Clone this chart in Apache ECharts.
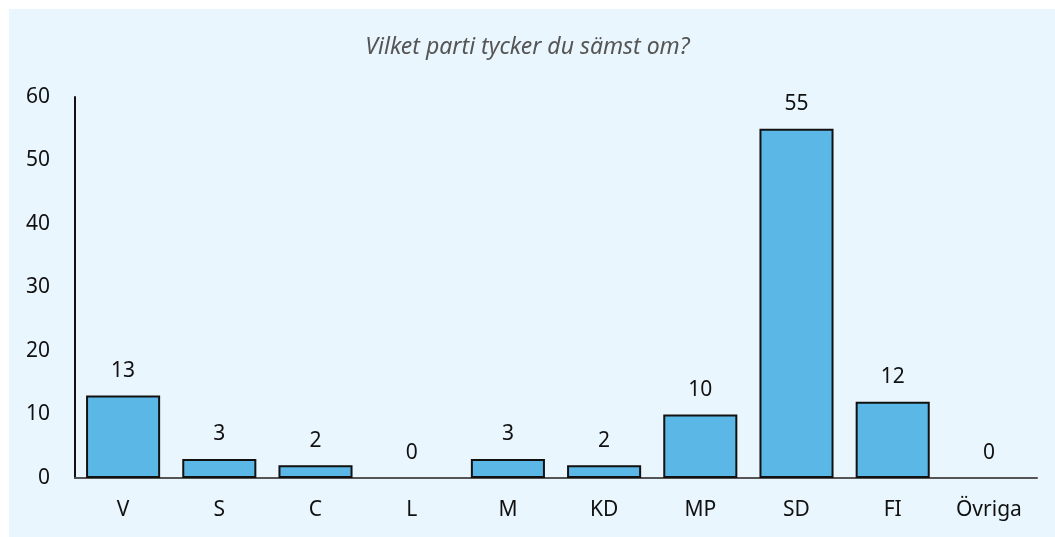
<!DOCTYPE html>
<html>
<head>
<meta charset="utf-8">
<script src="https://cdn.jsdelivr.net/npm/echarts@6/dist/echarts.min.js"></script>
<style>
  html, body { margin: 0; padding: 0; background: #ffffff; }
  #main { width: 1055px; height: 537px; }
</style>
</head>
<body>
<div id="main"></div>
<script>
var partier = ['V', 'S', 'C', 'L', 'M', 'KD', 'MP', 'SD', 'FI', 'Övriga'];
var andel = [13, 3, 2, 0, 3, 2, 10, 55, 12, 0];
var yTicks = [0, 10, 20, 30, 40, 50, 60];

var font = '"Noto Sans", sans-serif';

// nollstaplar ska inte ritas med kantlinje
var barData = andel.map(function (v) {
    return v === 0 ? { value: v, itemStyle: { borderWidth: 0 } } : v;
});

var myChart = echarts.init(document.getElementById('main'));
var option = {
    backgroundColor: '#ffffff',
    textStyle: { fontFamily: font },
    graphic: [{
        type: 'rect',
        z: -10,
        shape: { x: 9, y: 9, width: 1046, height: 528 },
        style: { fill: '#eaf6fd' }
    }],
    title: {
        text: 'Vilket parti tycker du sämst om?',
        left: 'center',
        top: 31,
        textStyle: {
            fontFamily: font,
            fontStyle: 'italic',
            fontWeight: 'normal',
            fontSize: 23,
            color: '#555555'
        }
    },
    grid: { left: 75, right: 18, top: 97, bottom: 59 },
    xAxis: {
        type: 'category',
        data: partier,
        axisTick: { show: false },
        axisLine: { lineStyle: { color: '#555555', width: 2 } },
        axisLabel: { color: '#111111', fontSize: 21, margin: 22, fontFamily: font }
    },
    yAxis: {
        type: 'value',
        min: 0,
        max: yTicks[yTicks.length - 1],
        interval: 10,
        splitLine: { show: false },
        axisTick: { show: false },
        axisLine: { show: true, lineStyle: { color: '#111111', width: 2 } },
        axisLabel: { color: '#111111', fontSize: 21, margin: 25, fontFamily: font }
    },
    series: [{
        type: 'bar',
        data: barData,
        barCategoryGap: '23%',
        itemStyle: { color: '#5bb8e6', borderColor: '#111111', borderWidth: 2 },
        label: {
            show: true,
            position: 'top',
            distance: 14,
            color: '#111111',
            fontSize: 21,
            fontFamily: font
        }
    }]
};
myChart.setOption(option);
</script>
</body>
</html>
